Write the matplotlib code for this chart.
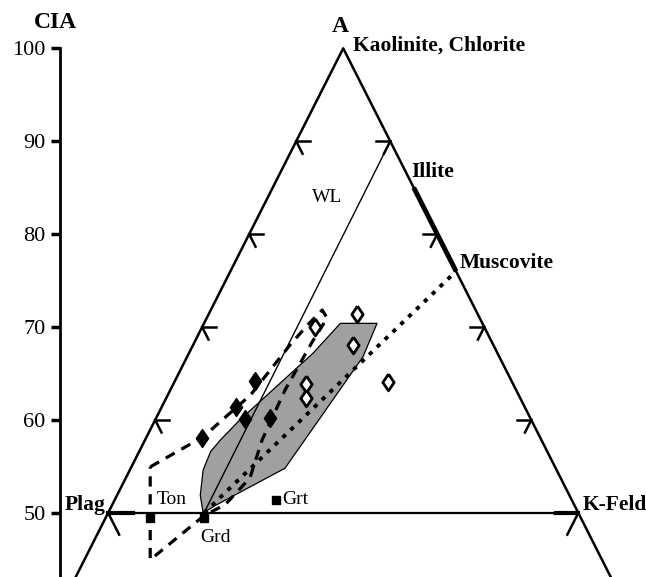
import numpy as np
import matplotlib
matplotlib.use('Agg')
import matplotlib.pyplot as plt

plt.rcParams['font.family'] = ['Liberation Serif', 'DejaVu Serif']

# ternary data as CIA (= A %) and K %, x position = K + A/2
filled_cia = [58.1, 61.4, 60.1, 64.2, 60.2]
filled_k = [5.95, 7.9, 9.55, 8.5, 12.1]

open_cia = [70.0, 71.4, 68.1, 63.9, 62.4, 64.1]
open_k = [12.0, 15.8, 16.95, 14.05, 14.8, 22.75]

# reference rocks: Ton, Grd, Grt
rock_names = ['Ton', 'Grd', 'Grt']
rock_cia = [49.5, 49.4, 51.4]
rock_k = [4.7, 10.5, 17.1]

# shaded field
field_cia = [50, 51.9, 54.6, 56.6, 57.8, 60.0, 67.2, 70.4, 70.4, 66.8, 54.8, 50.8]
field_k = [10.1, 8.85, 7.8, 7.6, 8.0, 9.0, 13.2, 14.5, 18.4, 18.7, 16.4, 11.0]

# dashed field
dash_cia = [54.95, 58.17, 62.69, 68.06, 70.22, 71.83, 70.97, 68.39, 63.23, 57.85, 53.76, 50.86, 49.78, 44.95, 54.95]
dash_k = [2.0, 6.0, 8.8, 10.3, 11.1, 11.85, 12.8, 12.5, 12.2, 12.45, 13.2, 12.0, 10.4, 7.0, 2.0]

grd = (50.0, 10.2)
muscovite = (76.0, 24.0)
illite = (85.0, 15.0)
wl_end = (90.0, 10.0)
tick_levels = [50, 60, 70, 80, 90]


def tx(cia, k):
    return np.asarray(k) + np.asarray(cia) / 2.0


diamond = [(0, 1), (0.68, 0), (0, -1), (-0.68, 0), (0, 1)]

fig = plt.figure(figsize=(6.46, 5.77), dpi=100)
ax = fig.add_axes([0, 0, 1, 1])
ax.set_xlim(13.5, 82.2)
ax.set_ylim(43.1, 105.2)

# triangle
ax.plot([0, 50, 100], [0, 100, 0], color='black', lw=1.8)
ax.plot([25, 75], [50, 50], color='black', lw=1.6)
ax.plot([25, 27.6], [50, 50], color='black', lw=3)
ax.plot([72.6, 75], [50, 50], color='black', lw=3)

# side ticks
for a in tick_levels:
    L = 2.6 if a == 50 else 1.5
    xl = a / 2.0
    ax.plot([xl, xl + L], [a, a], color='black', lw=1.8)
    ax.plot([xl, xl + L * 0.45], [a, a - L * 0.9], color='black', lw=1.8)
    xr = 100 - a / 2.0
    ax.plot([xr, xr - L], [a, a], color='black', lw=1.8)
    ax.plot([xr, xr - L * 0.45], [a, a - L * 0.9], color='black', lw=1.8)

# illite-muscovite segment
ax.plot(tx([illite[0], muscovite[0]], [illite[1], muscovite[1]]),
        [illite[0], muscovite[0]], color='black', lw=3.5, solid_capstyle='butt')

# shaded field
ax.fill(tx(field_cia, field_k), field_cia, facecolor='#a0a0a0', edgecolor='black', lw=0.9, zorder=2)

# weathering line and dotted line
ax.plot(tx([grd[0], wl_end[0]], [grd[1], wl_end[1]]), [grd[0], wl_end[0]], color='black', lw=1.0, zorder=3)
ax.plot(tx([grd[0], muscovite[0]], [grd[1], muscovite[1]]), [grd[0], muscovite[0]],
        color='black', lw=2.8, linestyle=(0, (1.1, 1.7)), zorder=3)

# dashed field
ax.plot(tx(dash_cia, dash_k), dash_cia, color='black', lw=2.3, linestyle=(0, (3.2, 2.4)), zorder=4)

# samples
ax.plot(tx(filled_cia, filled_k), filled_cia, linestyle='none', marker=diamond, ms=13,
        mfc='black', mec='black', zorder=5)
ax.plot(tx(open_cia, open_k), open_cia, linestyle='none', marker=diamond, ms=12,
        mfc='white', mec='black', mew=2.0, zorder=5)
ax.plot(tx(rock_cia, rock_k), rock_cia, linestyle='none', marker='s', ms=6,
        mfc='black', mec='black', zorder=5)

# labels
bfs = 15.5
fs = 14
ax.text(19.36, 102.8, 'CIA', fontsize=17, fontweight='bold', ha='center', va='center')
ax.text(49.7, 102.3, 'A', fontsize=17, fontweight='bold', ha='center', va='center')
ax.text(51.0, 100.3, 'Kaolinite, Chlorite', fontsize=bfs, fontweight='bold', ha='left', va='center')
ax.text(57.2, 86.7, 'Illite', fontsize=bfs, fontweight='bold', ha='left', va='center')
ax.text(48.3, 83.9, 'WL', fontsize=fs, ha='center', va='center')
ax.text(62.4, 76.9, 'Muscovite', fontsize=bfs, fontweight='bold', ha='left', va='center')
ax.text(24.7, 50.9, 'Plag', fontsize=bfs, fontweight='bold', ha='right', va='center')
ax.text(75.5, 50.9, 'K-Feld', fontsize=bfs, fontweight='bold', ha='left', va='center')
ax.text(30.2, 51.4, rock_names[0], fontsize=fs, ha='left', va='center')
ax.text(34.8, 47.4, rock_names[1], fontsize=fs, ha='left', va='center')
ax.text(43.5, 51.4, rock_names[2], fontsize=fs, ha='left', va='center')

# CIA axis
for s in ['top', 'right', 'bottom']:
    ax.spines[s].set_visible(False)
ax.spines['left'].set_position(('data', 19.9))
ax.spines['left'].set_bounds(43.1, 100)
ax.spines['left'].set_linewidth(2)
ax.set_yticks([50, 60, 70, 80, 90, 100])
ax.tick_params(axis='y', direction='out', length=6.5, width=2.5, pad=4, labelsize=16)
ax.set_xticks([])
ax.patch.set_visible(False)

fig.savefig('out.png', dpi=100)
